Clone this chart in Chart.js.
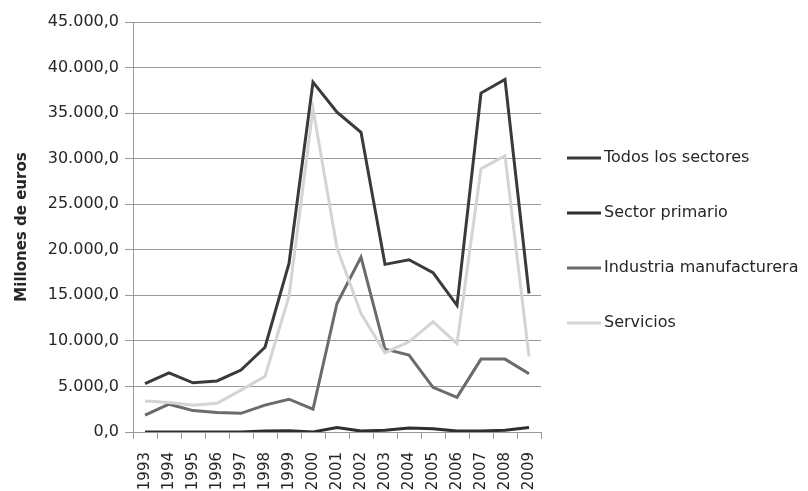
<!DOCTYPE html>
<html>
<head>
<meta charset="utf-8">
<script src="https://cdn.jsdelivr.net/npm/chart.js@4"></script>
<style>
  html, body { margin: 0; padding: 0; background: #fff; }
  #wrap { width: 808px; height: 491px; }
</style>
</head>
<body>
<div id="wrap"><canvas id="chart" width="808" height="491"></canvas></div>
<script>
// años y series (millones de euros)
const years = ['1993','1994','1995','1996','1997','1998','1999','2000','2001',
               '2002','2003','2004','2005','2006','2007','2008','2009'];
const todosSectores = [5300, 6500, 5400, 5600, 6800, 9300, 18500, 38400, 35100,
                       32900, 18400, 18900, 17500, 13900, 37200, 38700, 15200];
const sectorPrimario = [0, 0, 0, 0, 0, 100, 150, 0, 500,
                        100, 200, 450, 350, 100, 100, 200, 500];
const industria = [1850, 3050, 2350, 2150, 2050, 2950, 3600, 2500, 14100,
                   19200, 9100, 8450, 4900, 3800, 8000, 8000, 6400];
const servicios = [3400, 3250, 2950, 3150, 4600, 6100, 14900, 35500, 20200,
                   13000, 8700, 9900, 12100, 9700, 28900, 30300, 8300];
const seriesNames = ['Todos los sectores', 'Sector primario', 'Industria manufacturera', 'Servicios'];
const seriesColors = ['#3a3a3a', '#2e2e2e', '#6b6b6b', '#d4d4d4'];

const FONT = '"DejaVu Sans", sans-serif';
const TEXT = '#262626';

function fmtEs(v) {
    // 45000 -> "45.000,0"
    const int = Math.round(v).toString().replace(/\B(?=(\d{3})+(?!\d))/g, '.');
    return int + ',0';
}

function line(i, data) {
    return {
        label: seriesNames[i],
        data: data,
        borderColor: seriesColors[i],
        backgroundColor: seriesColors[i],
        borderWidth: 3,
        pointRadius: 0,
        fill: false,
        tension: 0
    };
}

// leyenda a la derecha, como en el original (líneas cortas + texto)
const sideLegend = {
    id: 'sideLegend',
    afterDraw(chart) {
        const ctx = chart.ctx;
        const x0 = chart.chartArea.right + 26;
        const y0 = 158, step = 55;
        ctx.save();
        ctx.font = '16px ' + FONT;
        ctx.textBaseline = 'middle';
        ctx.fillStyle = TEXT;
        seriesNames.forEach((name, i) => {
            const y = y0 + i * step;
            ctx.strokeStyle = seriesColors[i];
            ctx.lineWidth = 3;
            ctx.beginPath();
            ctx.moveTo(x0, y);
            ctx.lineTo(x0 + 34, y);
            ctx.stroke();
            ctx.fillText(name, x0 + 37, y);
        });
        ctx.restore();
    }
};

new Chart(document.getElementById('chart'), {
    type: 'line',
    data: {
        labels: years,
        datasets: [
            line(3, servicios),
            line(2, industria),
            line(1, sectorPrimario),
            line(0, todosSectores)
        ]
    },
    options: {
        responsive: false,
        animation: false,
        layout: { padding: { top: 22, left: 0, right: 267, bottom: 0 } },
        plugins: {
            tooltip: { enabled: false },
            legend: { display: false }
        },
        scales: {
            x: {
                offset: true,
                afterFit: s => { s.height = 59; },
                grid: {
                    drawOnChartArea: false,
                    drawTicks: true,
                    tickLength: 7,
                    color: '#999',
                    offset: true
                },
                border: { color: '#999', width: 1 },
                ticks: {
                    color: TEXT,
                    font: { family: FONT, size: 15 },
                    minRotation: 90,
                    maxRotation: 90,
                    autoSkip: false,
                    padding: 13
                }
            },
            y: {
                min: 0,
                max: 45000,
                afterFit: s => { s.width = 133; },
                grid: {
                    color: '#999',
                    lineWidth: 1,
                    drawTicks: true,
                    tickLength: 8
                },
                border: { color: '#999', width: 1 },
                ticks: {
                    stepSize: 5000,
                    color: TEXT,
                    font: { family: FONT, size: 16 },
                    padding: 6,
                    callback: v => fmtEs(v)
                },
                title: {
                    display: true,
                    text: 'Millones de euros',
                    color: TEXT,
                    font: { family: FONT, size: 15, weight: 'bold' },
                    padding: { top: 13, bottom: 0 }
                }
            }
        }
    },
    plugins: [sideLegend]
});
</script>
</body>
</html>
